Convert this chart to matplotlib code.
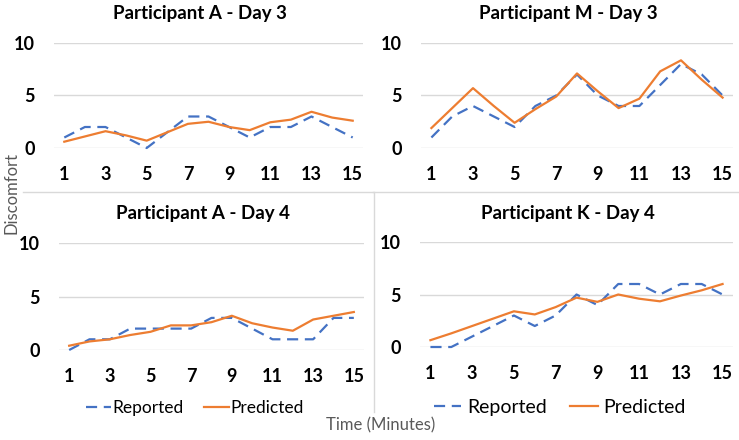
import matplotlib
matplotlib.use("Agg")
import matplotlib.pyplot as plt
from matplotlib.lines import Line2D

plt.rcParams['font.family'] = ['Lato', 'DejaVu Sans']

W, H = 739, 440

minutes = list(range(1, 16))
xtick_vals = [1, 3, 5, 7, 9, 11, 13, 15]
ytick_vals = [0, 5, 10]

titles = ["Participant A - Day 3", "Participant M - Day 3",
          "Participant A - Day 4", "Participant K - Day 4"]

reported_a3 = [1, 2, 2, 1, 0, 1.5, 3, 3, 2, 1, 2, 2, 3, 2, 1]
predicted_a3 = [0.6, 1.1, 1.6, 1.2, 0.7, 1.5, 2.3, 2.5, 2.0, 1.7, 2.45, 2.7, 3.45, 2.9, 2.6]

reported_m3 = [1, 3, 4, 3, 2, 4, 5, 7, 5, 4, 4, 6, 8, 7, 5]
predicted_m3 = [1.9, 3.8, 5.7, 4.0, 2.4, 3.7, 4.9, 7.1, 5.4, 3.8, 4.7, 7.3, 8.35, 6.5, 4.8]

reported_a4 = [0, 1, 1, 2, 2, 2, 2, 3, 3, 2, 1, 1, 1, 3, 3]
predicted_a4 = [0.4, 0.8, 1.0, 1.4, 1.7, 2.3, 2.3, 2.6, 3.2, 2.5, 2.1, 1.8, 2.85, 3.2, 3.55]

reported_k4 = [0, 0, 1, 2, 3, 2, 3, 5, 4, 6, 6, 5, 6, 6, 5]
predicted_k4 = [0.65, 1.3, 2.0, 2.7, 3.4, 3.1, 3.8, 4.7, 4.3, 5.0, 4.6, 4.35, 4.9, 5.4, 6.0]

reported = [reported_a3, reported_m3, reported_a4, reported_k4]
predicted = [predicted_a3, predicted_m3, predicted_a4, predicted_k4]

BLUE = "#4472C4"
ORANGE = "#ED7D31"
GRID = "#D9D9D9"
GRAY_TXT = "#595959"

# plot areas in pixels: x0, x1, y_top, y_bottom
boxes = [(54, 363, 43, 148),
         (421, 733, 43, 148),
         (59, 364, 243, 350),
         (420, 733, 242, 347)]
title_y = [13, 13, 213, 213]


def rect(x0, x1, yt, yb):
    return [x0 / W, 1 - yb / H, (x1 - x0) / W, (yb - yt) / H]


fig = plt.figure(figsize=(W / 100, H / 100), dpi=100)

# faint chart-area borders
fig.add_artist(Line2D([23 / W, 373 / W], [1 - 192 / H] * 2, color="#D9D9D9", lw=1))
fig.add_artist(Line2D([373 / W, 739 / W], [1 - 192 / H] * 2, color="#D9D9D9", lw=1))
fig.add_artist(Line2D([374 / W] * 2, [1 - 192 / H, 1 - 412 / H], color="#D9D9D9", lw=1))

for i in range(4):
    x0, x1, yt, yb = boxes[i]
    ax = fig.add_axes(rect(x0, x1, yt, yb))
    ax.plot(minutes, reported[i], color=BLUE, lw=1.6, dashes=(5, 3),
            label="Reported", clip_on=False)
    ax.plot(minutes, predicted[i], color=ORANGE, lw=1.6,
            label="Predicted", clip_on=False)
    ax.set_xlim(0.5, 15.5)
    ax.set_ylim(0, 10)
    ax.set_xticks(xtick_vals)
    ax.set_yticks(ytick_vals)
    ax.grid(axis="y", color=GRID, lw=1)
    ax.set_axisbelow(True)
    for s in ax.spines.values():
        s.set_visible(False)
    ax.tick_params(length=0, labelsize=13)
    ax.tick_params(axis="x", pad=13)
    ax.tick_params(axis="y", pad=14)
    for lab in ax.get_xticklabels() + ax.get_yticklabels():
        lab.set_fontweight("bold")
    fig.text((x0 + x1) / 2 / W - 0.012, 1 - title_y[i] / H, titles[i],
             ha="center", va="center", fontsize=13.5, fontweight="bold")
    if i == 2:
        ax.legend(loc="center", bbox_to_anchor=(195 / W, 1 - 408 / H),
                  bbox_transform=fig.transFigure, ncol=2, frameon=False,
                  fontsize=12.5, handlelength=1.4, columnspacing=1.2,
                  handletextpad=0.1)
    if i == 3:
        ax.legend(loc="center", bbox_to_anchor=(560 / W, 1 - 407 / H),
                  bbox_transform=fig.transFigure, ncol=2, frameon=False,
                  fontsize=14, handlelength=1.4, columnspacing=1.2,
                  handletextpad=0.3)

fig.text(12 / W, 1 - 193 / H, "Discomfort", rotation=90, ha="center",
         va="center", fontsize=12, color=GRAY_TXT)
fig.text(381 / W, 1 - 425 / H, "Time (Minutes)", ha="center", va="center",
         fontsize=12, color=GRAY_TXT)

fig.savefig("out.png", dpi=100)
